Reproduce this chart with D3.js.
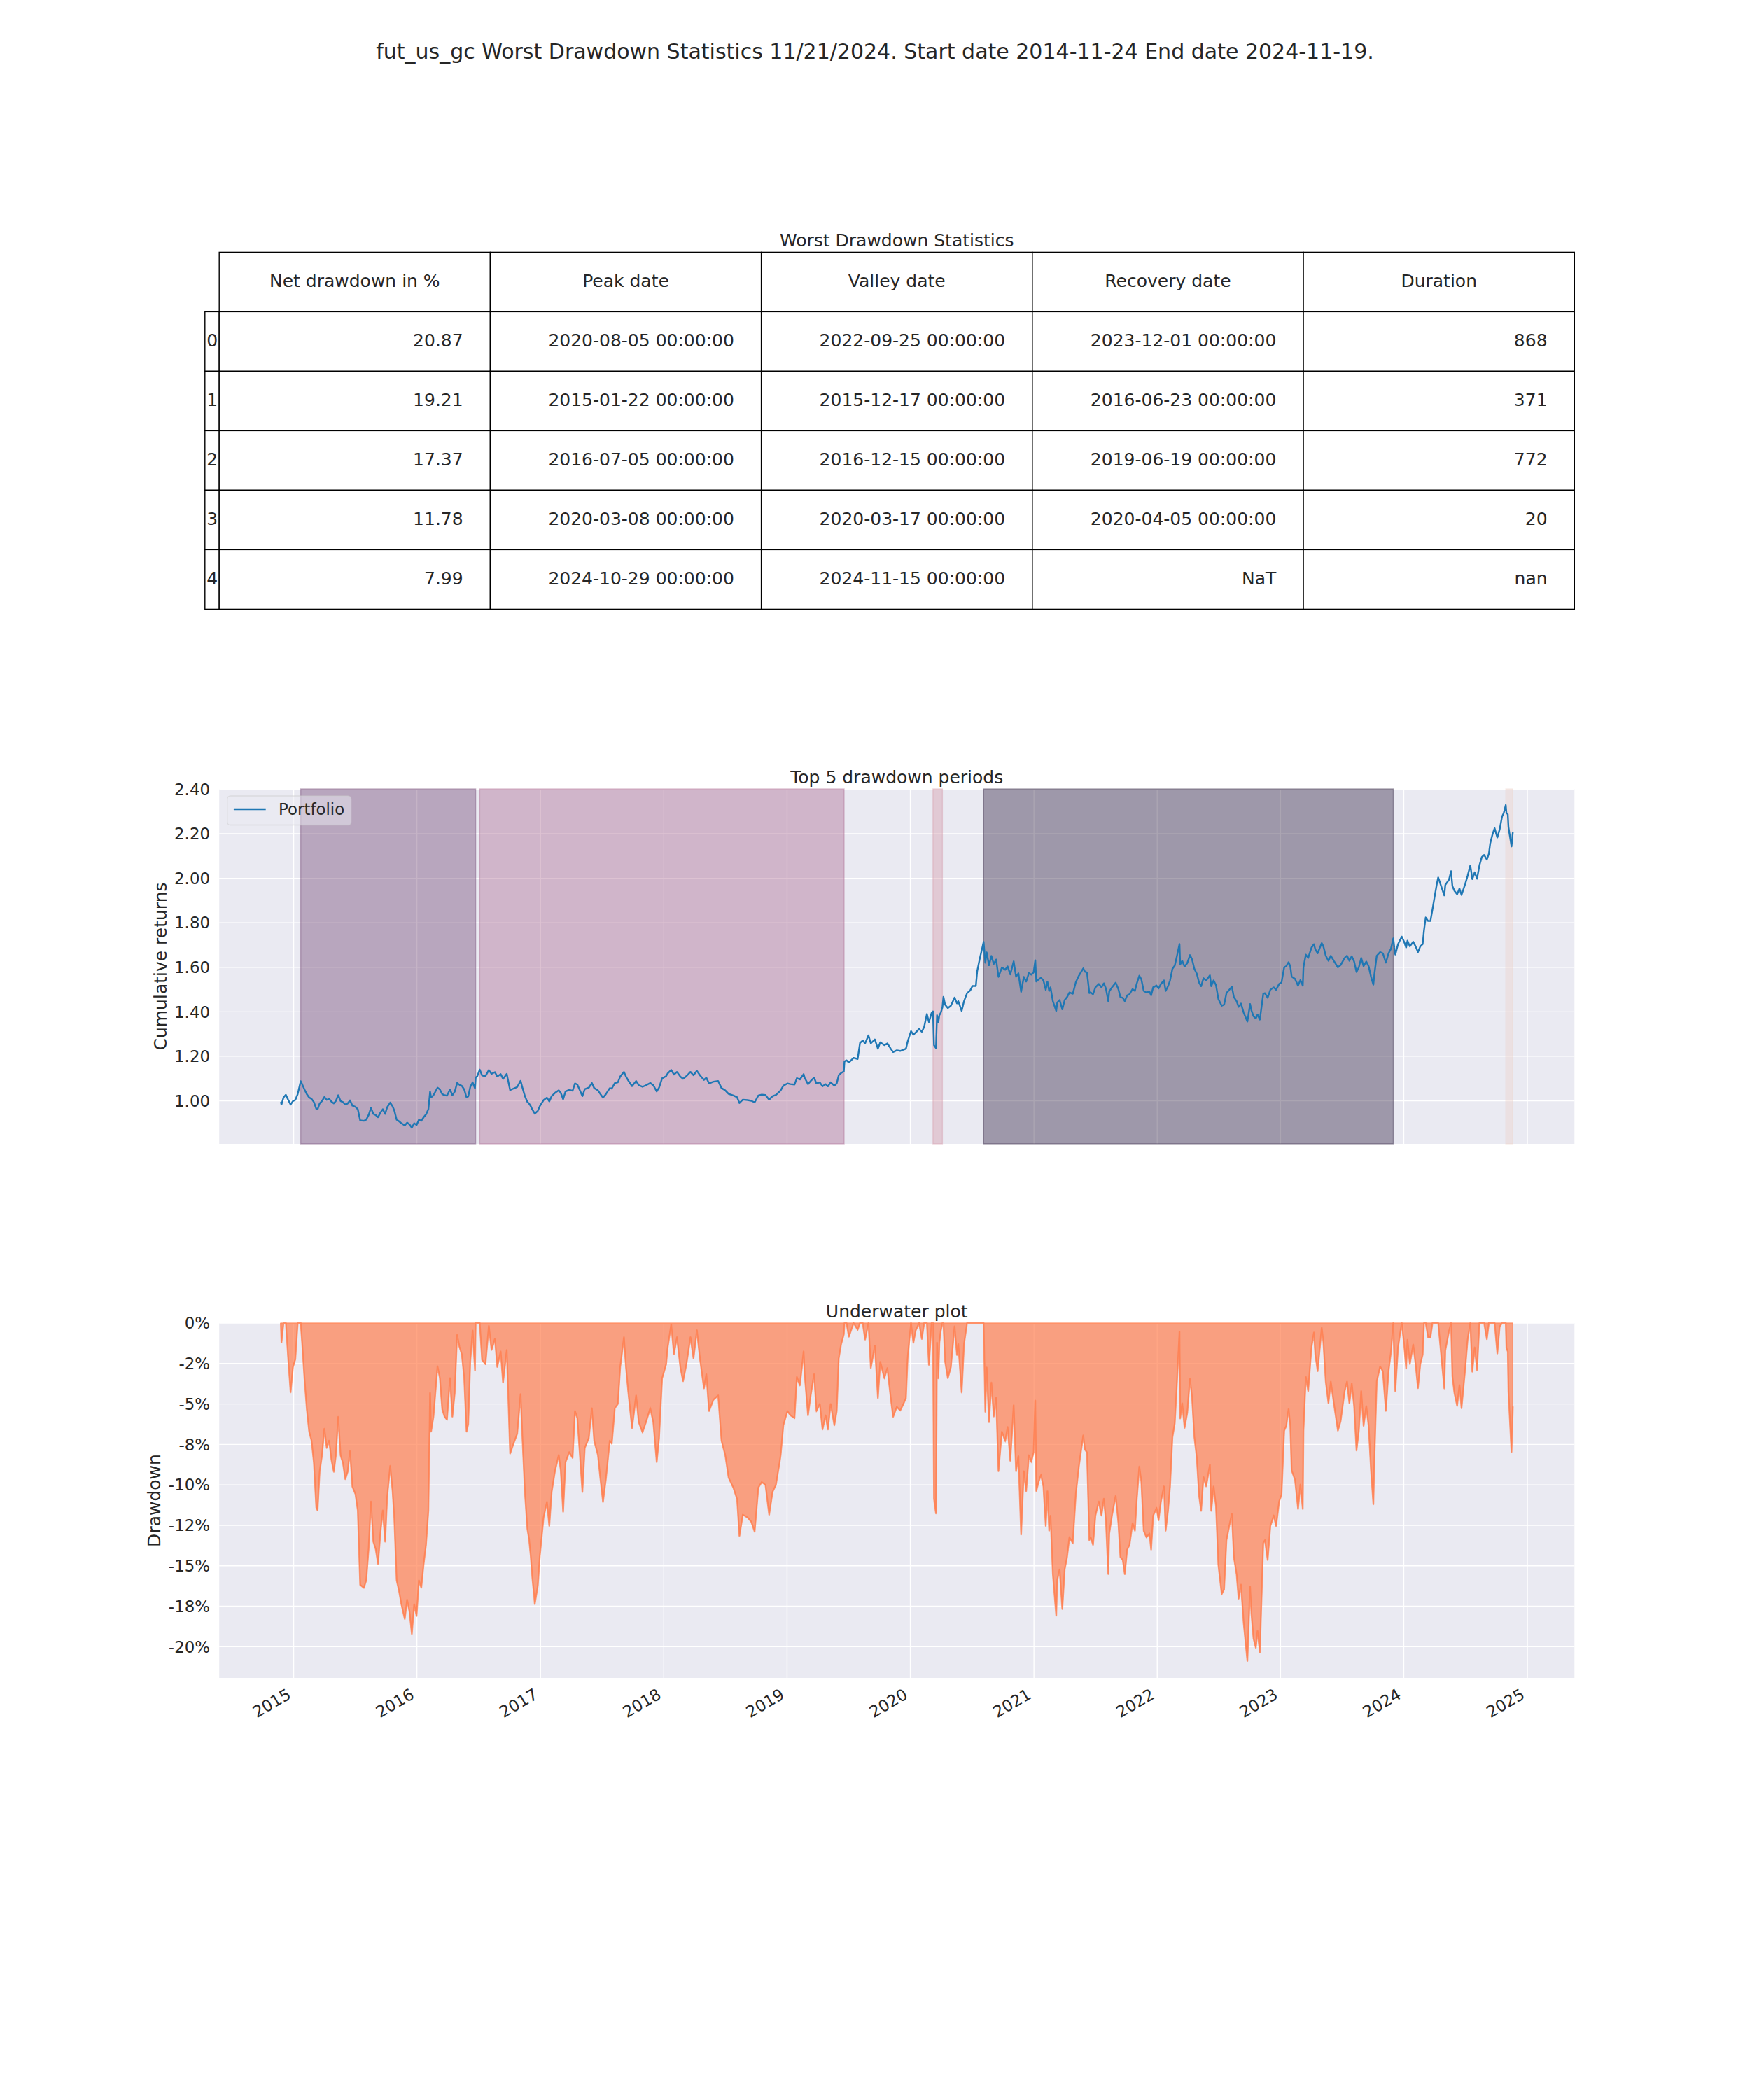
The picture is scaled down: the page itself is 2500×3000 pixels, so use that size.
<!DOCTYPE html>
<html>
<head>
<meta charset="utf-8">
<script src="https://cdn.jsdelivr.net/npm/d3@7"></script>
<style>
  body { margin: 0; background: #ffffff; }
  svg { display: block; }
  text { font-family: "DejaVu Sans", sans-serif; fill: #262626; }
</style>
</head>
<body>
<svg id="chart" width="2500" height="3000"></svg>
<script>
// ---------------- DATA ----------------
const suptitle = "fut_us_gc Worst Drawdown Statistics 11/21/2024. Start date 2014-11-24 End date 2024-11-19.";
const tableTitle = "Worst Drawdown Statistics";
const tableColumns = ["Net drawdown in %", "Peak date", "Valley date", "Recovery date", "Duration"];
const tableIndex = ["0", "1", "2", "3", "4"];
const netDrawdown = ["20.87", "19.21", "17.37", "11.78", "7.99"];
const peakDates = ["2020-08-05", "2015-01-22", "2016-07-05", "2020-03-08", "2024-10-29"];
const valleyDates = ["2022-09-25", "2015-12-17", "2016-12-15", "2020-03-17", "2024-11-15"];
const recoveryDates = ["2023-12-01", "2016-06-23", "2019-06-19", "2020-04-05", null];
const durations = ["868", "371", "772", "20", "nan"];
const periodColors = ["#2d1e3e", "#6e4071", "#aa678f", "#d499a7", "#edd1cb"];

const yearLabels = ["2015","2016","2017","2018","2019","2020","2021","2022","2023","2024","2025"];
const cumTicks = [1.00, 1.20, 1.40, 1.60, 1.80, 2.00, 2.20, 2.40];
const cumTickLabels = ["1.00","1.20","1.40","1.60","1.80","2.00","2.20","2.40"];
const ddTicks = [0, -2.5, -5, -7.5, -10, -12.5, -15, -17.5, -20];
const ddTickLabels = ["0%","-2%","-5%","-8%","-10%","-12%","-15%","-18%","-20%"];

// cumulative returns of the portfolio (date, value)
const cumulativeReturns = [
["2014-11-24",0.995],["2014-11-26",0.983],["2014-12-02",1.015],["2014-12-09",1.027],["2014-12-16",1.004],
["2014-12-23",0.983],["2014-12-30",0.999],["2015-01-06",1.004],["2015-01-13",1.030],["2015-01-22",1.088],
["2015-01-27",1.072],["2015-02-02",1.051],["2015-02-09",1.030],["2015-02-16",1.015],["2015-02-23",1.009],
["2015-03-02",0.994],["2015-03-09",0.964],["2015-03-13",0.962],["2015-03-19",0.988],["2015-03-26",0.999],
["2015-04-02",1.017],["2015-04-09",1.004],["2015-04-16",1.009],["2015-04-23",0.996],["2015-04-30",0.988],
["2015-05-06",0.999],["2015-05-13",1.025],["2015-05-20",0.999],["2015-05-27",0.994],["2015-06-03",0.983],
["2015-06-10",0.988],["2015-06-17",1.002],["2015-06-24",0.978],["2015-07-03",0.973],["2015-07-10",0.962],
["2015-07-17",0.912],["2015-07-28",0.910],["2015-08-04",0.915],["2015-08-11",0.936],["2015-08-18",0.968],
["2015-08-25",0.941],["2015-09-01",0.936],["2015-09-08",0.926],["2015-09-15",0.947],["2015-09-22",0.962],
["2015-09-29",0.941],["2015-10-05",0.971],["2015-10-14",0.992],["2015-10-21",0.975],["2015-10-26",0.957],
["2015-11-02",0.915],["2015-11-09",0.908],["2015-11-16",0.899],["2015-11-26",0.889],["2015-12-03",0.902],
["2015-12-10",0.894],["2015-12-17",0.879],["2015-12-24",0.899],["2015-12-31",0.891],["2016-01-07",0.915],
["2016-01-14",0.910],["2016-01-21",0.926],["2016-01-28",0.939],["2016-02-04",0.962],["2016-02-09",1.041],
["2016-02-12",1.015],["2016-02-19",1.025],["2016-03-02",1.059],["2016-03-09",1.051],["2016-03-16",1.030],
["2016-03-23",1.025],["2016-03-30",1.023],["2016-04-08",1.051],["2016-04-15",1.025],["2016-04-22",1.041],
["2016-04-29",1.080],["2016-05-06",1.072],["2016-05-13",1.067],["2016-05-20",1.051],["2016-05-27",1.015],
["2016-06-01",1.020],["2016-06-07",1.062],["2016-06-14",1.083],["2016-06-21",1.056],["2016-06-23",1.104],
["2016-06-28",1.111],["2016-07-05",1.140],["2016-07-12",1.114],["2016-07-22",1.111],["2016-08-01",1.138],
["2016-08-09",1.121],["2016-08-19",1.129],["2016-08-26",1.109],["2016-09-05",1.120],["2016-09-12",1.098],
["2016-09-23",1.121],["2016-10-03",1.048],["2016-10-13",1.055],["2016-10-24",1.062],["2016-11-03",1.090],
["2016-11-09",1.056],["2016-11-16",1.020],["2016-11-23",0.995],["2016-11-28",0.988],["2016-12-03",0.976],
["2016-12-08",0.960],["2016-12-13",0.948],["2016-12-15",0.942],["2016-12-24",0.955],["2016-12-30",0.976],
["2017-01-10",1.003],["2017-01-20",1.014],["2017-01-27",0.997],["2017-02-03",1.021],["2017-02-13",1.036],
["2017-02-24",1.047],["2017-03-02",1.036],["2017-03-09",1.007],["2017-03-16",1.042],["2017-03-27",1.049],
["2017-04-06",1.045],["2017-04-13",1.078],["2017-04-20",1.073],["2017-04-27",1.049],["2017-05-05",1.021],
["2017-05-12",1.052],["2017-05-24",1.059],["2017-06-02",1.080],["2017-06-09",1.057],["2017-06-20",1.047],
["2017-06-27",1.031],["2017-07-05",1.014],["2017-07-14",1.031],["2017-07-25",1.057],["2017-07-31",1.055],
["2017-08-09",1.080],["2017-08-18",1.083],["2017-08-25",1.109],["2017-09-05",1.130],["2017-09-11",1.109],
["2017-09-18",1.091],["2017-09-29",1.066],["2017-10-11",1.089],["2017-10-19",1.070],["2017-10-30",1.063],
["2017-11-09",1.070],["2017-11-22",1.080],["2017-12-01",1.070],["2017-12-11",1.042],["2017-12-18",1.059],
["2017-12-27",1.101],["2018-01-08",1.111],["2018-01-12",1.122],["2018-01-23",1.139],["2018-01-31",1.118],
["2018-02-09",1.130],["2018-02-19",1.109],["2018-02-27",1.099],["2018-03-09",1.111],["2018-03-21",1.130],
["2018-03-30",1.115],["2018-04-09",1.135],["2018-04-18",1.115],["2018-04-30",1.094],["2018-05-07",1.104],
["2018-05-15",1.078],["2018-05-28",1.086],["2018-06-11",1.089],["2018-06-21",1.057],["2018-07-02",1.047],
["2018-07-12",1.031],["2018-07-26",1.024],["2018-08-06",1.016],["2018-08-13",0.990],["2018-08-23",1.005],
["2018-09-06",1.003],["2018-09-17",1.000],["2018-09-27",0.993],["2018-10-08",1.024],["2018-10-18",1.028],
["2018-10-29",1.026],["2018-11-09",1.005],["2018-11-19",1.021],["2018-11-29",1.026],["2018-12-10",1.042],
["2018-12-13",1.047],["2018-12-21",1.068],["2019-01-02",1.078],["2019-01-11",1.075],["2019-01-23",1.073],
["2019-01-30",1.102],["2019-02-08",1.096],["2019-02-19",1.120],["2019-02-22",1.104],["2019-03-04",1.075],
["2019-03-12",1.089],["2019-03-22",1.104],["2019-03-29",1.078],["2019-04-08",1.083],["2019-04-16",1.065],
["2019-04-25",1.075],["2019-05-02",1.065],["2019-05-10",1.083],["2019-05-21",1.068],["2019-05-28",1.078],
["2019-06-03",1.115],["2019-06-10",1.125],["2019-06-18",1.132],["2019-06-20",1.177],["2019-06-26",1.182],
["2019-07-03",1.172],["2019-07-17",1.193],["2019-07-29",1.188],["2019-08-05",1.260],["2019-08-13",1.271],
["2019-08-20",1.258],["2019-08-30",1.294],["2019-09-06",1.258],["2019-09-18",1.276],["2019-09-27",1.234],
["2019-10-04",1.263],["2019-10-16",1.250],["2019-10-25",1.258],["2019-11-04",1.234],["2019-11-11",1.219],
["2019-11-22",1.227],["2019-12-02",1.224],["2019-12-11",1.229],["2019-12-19",1.234],["2019-12-24",1.266],
["2020-01-03",1.313],["2020-01-10",1.297],["2020-01-17",1.307],["2020-01-27",1.323],["2020-02-04",1.310],
["2020-02-11",1.333],["2020-02-19",1.390],["2020-02-25",1.354],["2020-03-04",1.395],["2020-03-08",1.402],
["2020-03-11",1.250],["2020-03-13",1.245],["2020-03-17",1.237],["2020-03-20",1.385],["2020-03-24",1.354],
["2020-03-27",1.385],["2020-03-31",1.395],["2020-04-05",1.420],["2020-04-08",1.467],["2020-04-13",1.432],
["2020-04-21",1.417],["2020-04-30",1.427],["2020-05-11",1.464],["2020-05-18",1.438],["2020-05-22",1.448],
["2020-06-01",1.404],["2020-06-08",1.448],["2020-06-17",1.484],["2020-06-26",1.495],["2020-07-03",1.516],
["2020-07-13",1.516],["2020-07-17",1.583],["2020-07-24",1.635],["2020-08-05",1.714],["2020-08-07",1.677],
["2020-08-10",1.620],["2020-08-14",1.667],["2020-08-21",1.609],["2020-08-28",1.651],["2020-09-04",1.615],
["2020-09-11",1.635],["2020-09-18",1.557],["2020-09-28",1.599],["2020-10-08",1.589],["2020-10-15",1.604],
["2020-10-23",1.568],["2020-11-02",1.627],["2020-11-09",1.557],["2020-11-16",1.573],["2020-11-24",1.490],
["2020-12-02",1.557],["2020-12-09",1.536],["2020-12-17",1.574],["2020-12-24",1.567],["2020-12-31",1.577],
["2021-01-05",1.632],["2021-01-08",1.536],["2021-01-15",1.546],["2021-01-22",1.553],["2021-01-29",1.541],
["2021-02-05",1.499],["2021-02-10",1.536],["2021-02-15",1.494],["2021-02-19",1.510],["2021-02-26",1.448],
["2021-03-08",1.404],["2021-03-11",1.442],["2021-03-18",1.453],["2021-03-26",1.411],["2021-04-02",1.453],
["2021-04-09",1.466],["2021-04-16",1.487],["2021-04-26",1.481],["2021-05-05",1.533],["2021-05-14",1.562],
["2021-05-21",1.580],["2021-05-27",1.595],["2021-06-01",1.580],["2021-06-07",1.577],["2021-06-14",1.484],
["2021-06-18",1.487],["2021-06-25",1.479],["2021-07-02",1.510],["2021-07-12",1.525],["2021-07-20",1.510],
["2021-07-27",1.528],["2021-08-02",1.505],["2021-08-09",1.448],["2021-08-12",1.491],["2021-08-20",1.510],
["2021-08-31",1.531],["2021-09-08",1.502],["2021-09-14",1.466],["2021-09-21",1.463],["2021-09-27",1.448],
["2021-10-04",1.474],["2021-10-11",1.479],["2021-10-20",1.502],["2021-10-27",1.494],["2021-11-01",1.525],
["2021-11-09",1.562],["2021-11-15",1.546],["2021-11-22",1.494],["2021-11-30",1.487],["2021-12-09",1.491],
["2021-12-14",1.474],["2021-12-20",1.510],["2021-12-30",1.518],["2022-01-05",1.505],["2022-01-12",1.525],
["2022-01-21",1.541],["2022-01-26",1.494],["2022-02-02",1.515],["2022-02-08",1.541],["2022-02-15",1.593],
["2022-02-22",1.608],["2022-03-01",1.655],["2022-03-08",1.705],["2022-03-10",1.613],["2022-03-16",1.629],
["2022-03-23",1.603],["2022-03-31",1.619],["2022-04-08",1.655],["2022-04-14",1.636],["2022-04-21",1.593],
["2022-04-28",1.572],["2022-05-05",1.531],["2022-05-11",1.515],["2022-05-18",1.551],["2022-05-26",1.541],
["2022-06-06",1.564],["2022-06-10",1.515],["2022-06-17",1.541],["2022-06-24",1.520],["2022-07-01",1.458],
["2022-07-11",1.427],["2022-07-18",1.432],["2022-07-25",1.484],["2022-08-04",1.502],["2022-08-10",1.512],
["2022-08-16",1.466],["2022-08-24",1.448],["2022-08-30",1.422],["2022-09-06",1.437],["2022-09-14",1.396],
["2022-09-25",1.356],["2022-10-03",1.435],["2022-10-07",1.406],["2022-10-13",1.380],["2022-10-20",1.370],
["2022-10-25",1.388],["2022-11-01",1.365],["2022-11-04",1.401],["2022-11-11",1.481],["2022-11-16",1.484],
["2022-11-24",1.463],["2022-12-02",1.499],["2022-12-12",1.510],["2022-12-19",1.499],["2022-12-28",1.525],
["2023-01-04",1.532],["2023-01-12",1.600],["2023-01-18",1.605],["2023-01-25",1.623],["2023-01-30",1.605],
["2023-02-03",1.558],["2023-02-13",1.548],["2023-02-22",1.517],["2023-03-01",1.543],["2023-03-08",1.517],
["2023-03-10",1.600],["2023-03-17",1.657],["2023-03-24",1.642],["2023-04-03",1.689],["2023-04-10",1.704],
["2023-04-14",1.681],["2023-04-21",1.663],["2023-05-03",1.709],["2023-05-08",1.694],["2023-05-15",1.652],
["2023-05-23",1.629],["2023-05-30",1.652],["2023-06-08",1.629],["2023-06-20",1.600],["2023-06-28",1.610],
["2023-07-10",1.642],["2023-07-17",1.652],["2023-07-24",1.629],["2023-07-31",1.650],["2023-08-07",1.626],
["2023-08-14",1.579],["2023-08-21",1.600],["2023-08-28",1.642],["2023-09-04",1.605],["2023-09-12",1.626],
["2023-09-19",1.605],["2023-09-26",1.558],["2023-10-03",1.522],["2023-10-06",1.569],["2023-10-13",1.652],
["2023-10-23",1.668],["2023-10-31",1.663],["2023-11-09",1.621],["2023-11-17",1.663],["2023-11-24",1.683],
["2023-12-01",1.730],["2023-12-04",1.689],["2023-12-07",1.657],["2023-12-15",1.704],["2023-12-26",1.738],
["2024-01-02",1.715],["2024-01-08",1.689],["2024-01-12",1.720],["2024-01-19",1.694],["2024-01-29",1.715],
["2024-02-05",1.694],["2024-02-12",1.668],["2024-02-19",1.694],["2024-02-26",1.704],["2024-03-01",1.767],
["2024-03-06",1.824],["2024-03-13",1.808],["2024-03-20",1.808],["2024-03-26",1.860],["2024-04-02",1.923],
["2024-04-08",1.975],["2024-04-12",2.004],["2024-04-22",1.959],["2024-04-30",1.923],["2024-05-03",1.970],
["2024-05-14",1.994],["2024-05-20",2.032],["2024-05-24",1.965],["2024-05-30",1.944],["2024-06-07",1.928],
["2024-06-14",1.954],["2024-06-20",1.925],["2024-07-01",1.975],["2024-07-08",2.011],["2024-07-16",2.058],
["2024-07-22",1.996],["2024-07-29",2.027],["2024-08-05",1.998],["2024-08-12",2.058],["2024-08-19",2.095],
["2024-08-26",2.105],["2024-09-03",2.084],["2024-09-09",2.110],["2024-09-13",2.157],["2024-09-20",2.199],
["2024-09-26",2.225],["2024-10-01",2.199],["2024-10-04",2.183],["2024-10-11",2.220],["2024-10-18",2.277],
["2024-10-23",2.293],["2024-10-29",2.329],["2024-10-31",2.293],["2024-11-04",2.288],["2024-11-06",2.230],
["2024-11-15",2.143],["2024-11-19",2.209]
];

// ---------------- LAYOUT ----------------
const FONT = "DejaVu Sans";
const TEXT = "#262626";
const AX_BG = "#EAEAF2";
const left = 313.2, right = 2249.3;
const tableTop = 360.4, rowH = 85, idxW = 20.4;
const cumTop = 1127, cumBottom = 1634;
const ddTop = 1890, ddBottom = 2397;
const tickFont = 22.9, labelFont = 25, titleFont = 25;
const lineW = 2.4;

const svg = d3.select("#chart");
const parse = d3.utcParse("%Y-%m-%d");

const series = cumulativeReturns.map(d => ({ date: parse(d[0]), value: d[1] }));
let runMax = -Infinity;
series.forEach(d => { runMax = Math.max(runMax, d.value); d.dd = -100 * (runMax - d.value) / runMax; });

const t0 = series[0].date, t1 = series[series.length - 1].date;
const span = t1 - t0;
const x = d3.scaleUtc()
  .domain([new Date(+t0 - 0.05 * span), new Date(+t1 + 0.05 * span)])
  .range([left, right]);
const yearDates = yearLabels.map(y => parse(y + "-01-01"));

// ---------------- SUPTITLE ----------------
svg.append("text").attr("x", 1250).attr("y", 84).attr("text-anchor", "middle")
  .style("font-size", "30px").text(suptitle);

// ---------------- TABLE ----------------
const colW = (right - left) / tableColumns.length;
const fmtDate = d => d == null ? "NaT" : d + " 00:00:00";
const tableRows = tableIndex.map((idx, i) => [netDrawdown[i], fmtDate(peakDates[i]), fmtDate(valleyDates[i]), fmtDate(recoveryDates[i]), durations[i]]);

svg.append("text").attr("x", (left + right) / 2).attr("y", tableTop - 8.3)
  .attr("text-anchor", "middle").style("font-size", titleFont + "px").text(tableTitle);

const tg = svg.append("g");
tableColumns.forEach((c, j) => {
  tg.append("rect").attr("x", left + j * colW).attr("y", tableTop).attr("width", colW).attr("height", rowH)
    .attr("fill", "#fff").attr("stroke", "#000").attr("stroke-width", 1.4);
  tg.append("text").attr("x", left + j * colW + colW / 2).attr("y", tableTop + rowH / 2 + 6.6)
    .attr("text-anchor", "middle").style("font-size", "25px").text(c);
});
tableRows.forEach((row, i) => {
  const yTop = tableTop + (i + 1) * rowH;
  tg.append("rect").attr("x", left - idxW).attr("y", yTop).attr("width", idxW).attr("height", rowH)
    .attr("fill", "#fff").attr("stroke", "#000").attr("stroke-width", 1.4);
  tg.append("text").attr("x", left - idxW + 2.5).attr("y", yTop + rowH / 2 + 6.6)
    .attr("text-anchor", "start").style("font-size", "25px").text(tableIndex[i]);
  row.forEach((v, j) => {
    tg.append("rect").attr("x", left + j * colW).attr("y", yTop).attr("width", colW).attr("height", rowH)
      .attr("fill", "#fff").attr("stroke", "#000").attr("stroke-width", 1.4);
    tg.append("text").attr("x", left + j * colW + colW * 0.9).attr("y", yTop + rowH / 2 + 6.6)
      .attr("text-anchor", "end").style("font-size", "25px").text(v);
  });
});

// ---------------- helpers ----------------
function drawBackground(top, bottom) {
  svg.append("rect").attr("x", left).attr("y", top).attr("width", right - left).attr("height", bottom - top).attr("fill", AX_BG);
}
function drawGrid(y, ticks, top, bottom) {
  const g = svg.append("g");
  g.selectAll("line.h").data(ticks).join("line").attr("class", "h")
    .attr("x1", left).attr("x2", right).attr("y1", d => y(d)).attr("y2", d => y(d))
    .attr("stroke", "#fff").attr("stroke-width", 1.4);
  g.selectAll("line.v").data(yearDates).join("line").attr("class", "v")
    .attr("x1", d => x(d)).attr("x2", d => x(d)).attr("y1", top).attr("y2", bottom)
    .attr("stroke", "#fff").attr("stroke-width", 1.4);
}
function drawYAxis(y, ticks, labels) {
  const g = svg.append("g").attr("transform", `translate(${left},0)`)
    .call(d3.axisLeft(y).tickValues(ticks).tickFormat((d, i) => labels[i]).tickSize(0).tickPadding(13.2));
  g.select(".domain").remove();
  g.attr("font-family", FONT).attr("font-size", tickFont).attr("color", TEXT);
  g.selectAll("text").attr("dy", "0.34em");
  return g;
}
function axisTitle(text, top) {
  svg.append("text").attr("x", (left + right) / 2).attr("y", top - 8.3).attr("text-anchor", "middle")
    .style("font-size", titleFont + "px").text(text);
}
function yLabel(text, xPos, top, bottom) {
  svg.append("text").attr("transform", `translate(${xPos},${(top + bottom) / 2}) rotate(-90)`)
    .attr("text-anchor", "middle").style("font-size", labelFont + "px").text(text);
}

// ---------------- TOP 5 DRAWDOWN PERIODS ----------------
const cMin = d3.min(series, d => d.value), cMax = d3.max(series, d => d.value);
const cPad = 0.05 * (cMax - cMin);
const yCum = d3.scaleLinear().domain([cMin - cPad, cMax + cPad]).range([cumBottom, cumTop]);

drawBackground(cumTop, cumBottom);
drawGrid(yCum, cumTicks, cumTop, cumBottom);

svg.append("g").selectAll("rect").data(peakDates).join("rect")
  .attr("x", d => x(parse(d)))
  .attr("width", (d, i) => x(recoveryDates[i] ? parse(recoveryDates[i]) : t1) - x(parse(d)))
  .attr("y", cumTop).attr("height", cumBottom - cumTop)
  .attr("fill", (d, i) => periodColors[i]).attr("fill-opacity", 0.4)
  .attr("stroke", (d, i) => periodColors[i]).attr("stroke-opacity", 0.4).attr("stroke-width", 1.4);

svg.append("path").datum(series)
  .attr("d", d3.line().x(d => x(d.date)).y(d => yCum(d.value)))
  .attr("fill", "none").attr("stroke", "#1f77b4").attr("stroke-width", lineW).attr("stroke-linejoin", "round");

drawYAxis(yCum, cumTicks, cumTickLabels);
axisTitle("Top 5 drawdown periods", cumTop);
yLabel("Cumulative returns", 238, cumTop, cumBottom);

const lg = svg.append("g");
lg.append("rect").attr("x", left + 11.5).attr("y", cumTop + 10).attr("width", 177).attr("height", 41.5).attr("rx", 4.6)
  .attr("fill", AX_BG).attr("fill-opacity", 0.5).attr("stroke", "#cccccc").attr("stroke-opacity", 0.5).attr("stroke-width", 1.4);
lg.append("line").attr("x1", left + 20.7).attr("x2", left + 66.5).attr("y1", cumTop + 29).attr("y2", cumTop + 29)
  .attr("stroke", "#1f77b4").attr("stroke-width", lineW);
lg.append("text").attr("x", left + 84.8).attr("y", cumTop + 37.3).style("font-size", tickFont + "px").text("Portfolio");

// ---------------- UNDERWATER ----------------
const uMin = d3.min(series, d => d.dd);
const yDD = d3.scaleLinear().domain([uMin - 0.05 * Math.abs(uMin), 0]).range([ddBottom, ddTop]);

drawBackground(ddTop, ddBottom);
drawGrid(yDD, ddTicks, ddTop, ddBottom);

svg.append("path").datum(series)
  .attr("d", d3.area().x(d => x(d.date)).y0(yDD(0)).y1(d => yDD(d.dd)))
  .attr("fill", "coral").attr("fill-opacity", 0.7)
  .attr("stroke", "coral").attr("stroke-opacity", 0.7).attr("stroke-width", 1.4);
svg.append("path").datum(series)
  .attr("d", d3.line().x(d => x(d.date)).y(d => yDD(d.dd)))
  .attr("fill", "none").attr("stroke", "coral").attr("stroke-opacity", 0.7).attr("stroke-width", lineW).attr("stroke-linejoin", "round");

drawYAxis(yDD, ddTicks, ddTickLabels);
axisTitle("Underwater plot", ddTop);
yLabel("Drawdown", 229, ddTop, ddBottom);

const gx = svg.append("g").attr("transform", `translate(0,${ddBottom})`)
  .call(d3.axisBottom(x).tickValues(yearDates).tickFormat((d, i) => yearLabels[i]).tickSize(0));
gx.select(".domain").remove();
gx.attr("font-family", FONT).attr("font-size", tickFont).attr("color", TEXT);
gx.selectAll("text").attr("y", 0).attr("dy", null).attr("text-anchor", "end")
  .attr("transform", "translate(-2.7,28.3) rotate(-30)");
</script>
</body>
</html>
